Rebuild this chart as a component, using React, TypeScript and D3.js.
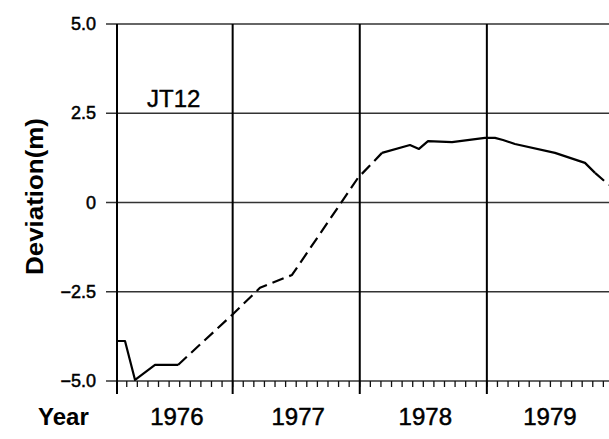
import { useRef, useEffect } from 'react'
import * as d3 from 'd3'

// decimal year, deviation (m); estimated[i] = segment ending at point i is dashed
const times = [
  1976.09, 1976.153, 1976.232, 1976.389, 1976.57,
  1976.995, 1977.215, 1977.467, 1977.986, 1978.175,
  1978.395, 1978.466, 1978.537, 1978.726, 1978.985, 1979.064, 1979.127, 1979.221,
  1979.536, 1979.772, 1979.851, 1979.961,
]
const deviation = [
  -3.88, -3.88, -4.97, -4.55, -4.55,
  -3.15, -2.39, -2.03, 0.69, 1.39,
  1.61, 1.5, 1.72, 1.69, 1.81, 1.81, 1.75, 1.64,
  1.39, 1.11, 0.83, 0.49,
]
const estimated = [
  false, false, false, false, false,
  true, true, true, true, true,
  false, false, false, false, false, false, false, false,
  false, false, false, true,
]
const yTicks = [5, 2.5, 0, -2.5, -5]
const yTickLabels = ['5.0', '2.5', '0', '\u22122.5', '\u22125.0']
const yearLabels = [1976, 1977, 1978, 1979]

const FONT = '"Liberation Sans", Arial, Helvetica, sans-serif'

export default function App() {
  const ref = useRef<SVGSVGElement>(null)

  useEffect(() => {
    if (!ref.current) return
    const svg = d3.select(ref.current)
    svg.selectAll('*').remove()

    const x = d3.scaleLinear().domain([1976.09, 1979.961]).range([117, 609])
    const y = d3.scaleLinear().domain([-5, 5]).range([381, 24])

    const g = svg.append('g')

    // horizontal grid
    yTicks.forEach((v) => {
      g.append('line')
        .attr('x1', 106).attr('x2', 609)
        .attr('y1', y(v)).attr('y2', y(v))
        .attr('stroke', '#333').attr('stroke-width', 1.3)
    })

    // monthly ticks along the bottom
    const months = d3.range(Math.ceil(1976.09 * 12), Math.floor(1979.961 * 12) + 1).map((m) => m / 12)
    months.forEach((m) => {
      g.append('line')
        .attr('x1', x(m)).attr('x2', x(m))
        .attr('y1', y(-5)).attr('y2', y(-5) + 6)
        .attr('stroke', '#111').attr('stroke-width', 1.3)
    })

    // left axis + year lines
    const verticals = [1976.09, 1977, 1978, 1979]
    verticals.forEach((t) => {
      g.append('line')
        .attr('x1', x(t)).attr('x2', x(t))
        .attr('y1', y(5)).attr('y2', 394)
        .attr('stroke', '#000').attr('stroke-width', 2)
    })

    // y labels
    yTicks.forEach((v, i) => {
      g.append('text')
        .attr('x', 96).attr('y', y(v) + 6)
        .attr('text-anchor', 'end')
        .attr('font-family', FONT).attr('font-size', 18)
        .attr('fill', '#000').attr('stroke', '#000').attr('stroke-width', 0.5)
        .text(yTickLabels[i])
    })

    // year labels centred in visible part of each year
    const [t0, t1] = x.domain()
    yearLabels.forEach((yr) => {
      const a = Math.max(t0, yr)
      const b = Math.min(t1, yr + 1)
      g.append('text')
        .attr('x', (x(a) + x(b)) / 2 + 2).attr('y', 425)
        .attr('text-anchor', 'middle')
        .attr('font-family', FONT).attr('font-size', 24)
        .attr('fill', '#000').attr('stroke', '#000').attr('stroke-width', 0.5)
        .text(String(yr))
    })

    g.append('text')
      .attr('x', 38).attr('y', 425)
      .attr('font-family', FONT).attr('font-size', 24).attr('font-weight', 'bold')
      .text('Year')

    g.append('text')
      .attr('transform', 'translate(43,275) rotate(-90)')
      .attr('font-family', FONT).attr('font-size', 24).attr('font-weight', 'bold')
      .attr('textLength', 157)
      .attr('lengthAdjust', 'spacingAndGlyphs')
      .text('Deviation(m)')

    g.append('text')
      .attr('x', 147).attr('y', 107)
      .attr('font-family', FONT).attr('font-size', 24)
      .attr('stroke', '#000').attr('stroke-width', 0.4)
      .text('JT12')

    // series, split into solid / dashed runs
    const pts = times.map((t, i) => ({ t, v: deviation[i], dashed: estimated[i] }))
    const runs: { dashed: boolean; pts: typeof pts }[] = []
    for (let i = 1; i < pts.length; i++) {
      const last = runs[runs.length - 1]
      if (last && last.dashed === pts[i].dashed) last.pts.push(pts[i])
      else runs.push({ dashed: pts[i].dashed, pts: [pts[i - 1], pts[i]] })
    }
    const line = d3.line<(typeof pts)[number]>().x((d) => x(d.t)).y((d) => y(d.v))
    runs.forEach((r) => {
      g.append('path')
        .datum(r.pts)
        .attr('d', line)
        .attr('fill', 'none')
        .attr('stroke', '#000')
        .attr('stroke-width', 2.2)
        .attr('stroke-linejoin', 'round')
        .attr('stroke-dasharray', r.dashed ? '12,6' : null)
    })
  }, [])

  return (
    <svg
      ref={ref}
      width={609}
      height={439}
      style={{ position: 'absolute', left: 0, top: 0, background: '#fff' }}
    />
  )
}
